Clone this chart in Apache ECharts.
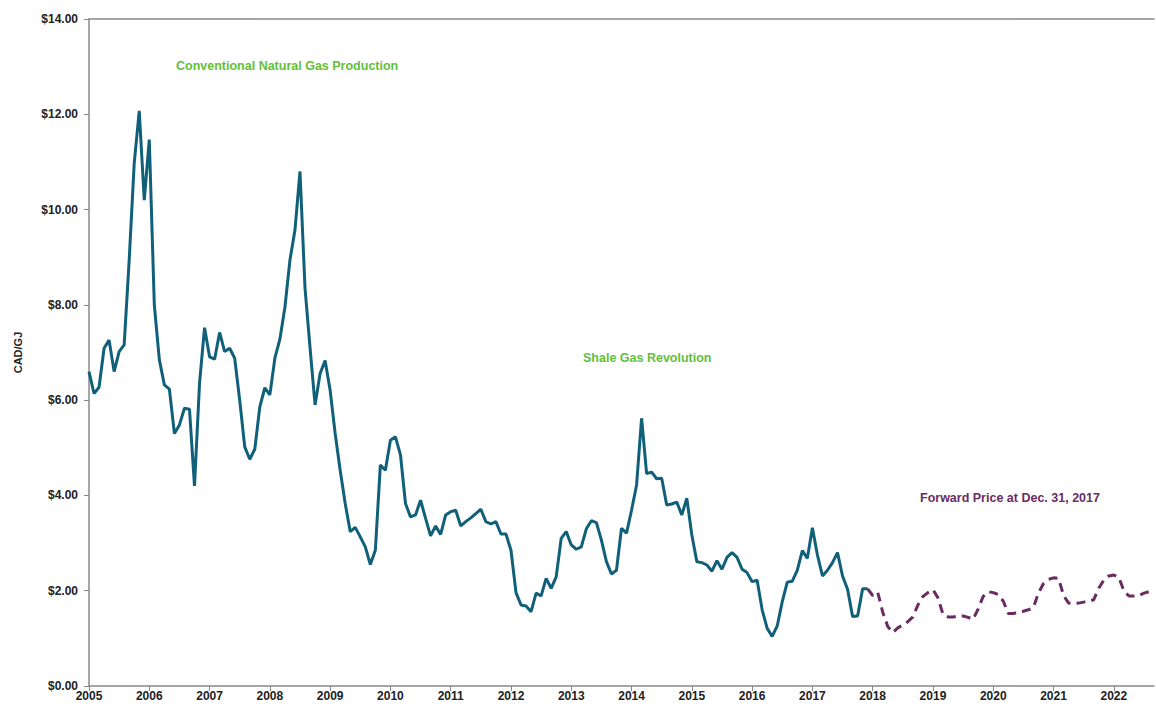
<!DOCTYPE html>
<html>
<head>
<meta charset="utf-8">
<title>Natural gas price CAD/GJ</title>
<script src="https://cdn.jsdelivr.net/npm/echarts@6.0.0/dist/echarts.min.js"></script>
<style>
  html, body { margin: 0; padding: 0; background: #fff; }
  #chart { width: 1156px; height: 708px; }
</style>
</head>
<body>
<div id="chart"></div>
<script>
// monthly history, Jan 2005 - Dec 2017 (CAD/GJ)
var histPrice = [
  6.60, 6.14, 6.27, 7.09, 7.26, 6.60, 7.02, 7.16, 8.94, 10.97, 12.07, 10.20,
  11.47, 8.00, 6.85, 6.32, 6.23, 5.30, 5.48, 5.83, 5.81, 4.20, 6.35, 7.52,
  6.91, 6.86, 7.42, 7.02, 7.09, 6.88, 6.00, 5.02, 4.76, 4.97, 5.86, 6.26,
  6.11, 6.88, 7.28, 7.95, 8.94, 9.57, 10.80, 8.35, 7.10, 5.90, 6.56, 6.83,
  6.21, 5.30, 4.53, 3.83, 3.24, 3.33, 3.13, 2.92, 2.55, 2.85, 4.64, 4.53,
  5.16, 5.23, 4.85, 3.83, 3.55, 3.59, 3.90, 3.52, 3.15, 3.36, 3.18, 3.59,
  3.66, 3.69, 3.36, 3.45, 3.53, 3.62, 3.71, 3.45, 3.40, 3.45, 3.19, 3.19,
  2.85, 1.96, 1.70, 1.68, 1.56, 1.95, 1.89, 2.26, 2.05, 2.29, 3.10, 3.24,
  2.96, 2.87, 2.92, 3.30, 3.47, 3.43, 3.06, 2.61, 2.35, 2.43, 3.31, 3.21,
  3.69, 4.22, 5.62, 4.46, 4.49, 4.35, 4.36, 3.80, 3.82, 3.86, 3.59, 3.94,
  3.17, 2.61, 2.59, 2.54, 2.41, 2.63, 2.45, 2.70, 2.80, 2.70, 2.45, 2.38,
  2.19, 2.22, 1.60, 1.21, 1.04, 1.26, 1.77, 2.18, 2.20, 2.43, 2.84, 2.68,
  3.32, 2.75, 2.31, 2.43, 2.59, 2.80, 2.31, 2.03, 1.46, 1.47, 2.04, 2.04
];

// forward curve at Dec. 31, 2017, Jan 2018 - Sep 2022
var forwardPrice = [
  1.90, 1.97, 1.55, 1.25, 1.12, 1.22, 1.28, 1.35, 1.45, 1.70, 1.88, 1.96,
  2.02, 1.85, 1.50, 1.45, 1.45, 1.47, 1.47, 1.44, 1.40, 1.62, 1.88, 1.98,
  1.96, 1.92, 1.78, 1.52, 1.52, 1.55, 1.57, 1.60, 1.65, 1.95, 2.15, 2.24,
  2.27, 2.26, 1.90, 1.74, 1.73, 1.74, 1.76, 1.78, 1.81, 2.05, 2.22, 2.31,
  2.33, 2.28, 2.00, 1.89, 1.89, 1.90, 1.95, 1.98, 2.00
];

var firstYear = 2005;
var lastYear = 2022;
var lastMonth = 9;

var annotations = [
  { text: 'Conventional Natural Gas Production', color: '#62c03a', left: 176, top: 59 },
  { text: 'Shale Gas Revolution', color: '#62c03a', left: 583, top: 351 },
  { text: 'Forward Price at Dec. 31, 2017', color: '#6b2b62', left: 920, top: 491 }
];

// month categories
var months = [];
for (var y = firstYear; y <= lastYear; y++) {
  for (var m = 1; m <= 12; m++) {
    if (y === lastYear && m > lastMonth) break;
    months.push(y + '-' + (m < 10 ? '0' + m : m));
  }
}

// dashed series joins the last historical point
var forwardSeries = [];
for (var i = 0; i < histPrice.length - 1; i++) forwardSeries.push(null);
forwardSeries.push(histPrice[histPrice.length - 1]);
forwardSeries = forwardSeries.concat(forwardPrice);

var isJan = function (idx) { return idx % 12 === 0; };
var font = '"Liberation Sans", Arial, sans-serif';

var chart = echarts.init(document.getElementById('chart'), null, { renderer: 'svg' });

var option = {
  animation: false,
  backgroundColor: '#fff',
  grid: { left: 89, right: 2, top: 19, bottom: 22, containLabel: false },
  xAxis: [
    {
      type: 'category',
      data: months,
      boundaryGap: false,
      axisLine: { lineStyle: { color: '#888', width: 1.5 } },
      axisTick: { interval: isJan, length: 5, lineStyle: { color: '#888' } },
      axisLabel: {
        interval: isJan,
        formatter: function (v) { return v.split('-')[0]; },
        color: '#222',
        fontWeight: 'bold',
        fontSize: 12,
        fontFamily: font,
        margin: 4
      },
      splitLine: { show: false }
    },
    {
      type: 'category',
      data: months,
      position: 'top',
      boundaryGap: false,
      axisLine: { lineStyle: { color: '#888', width: 1.5 } },
      axisTick: { show: false },
      axisLabel: { show: false },
      splitLine: { show: false }
    }
  ],
  yAxis: {
    type: 'value',
    min: 0,
    max: 14,
    interval: 2,
    name: 'CAD/GJ',
    nameLocation: 'middle',
    nameGap: 66,
    nameRotate: 90,
    nameTextStyle: { color: '#222', fontWeight: 'bold', fontSize: 11, fontFamily: font },
    axisLine: { show: true, lineStyle: { color: '#888', width: 1.5 } },
    axisTick: { show: true, length: 5, lineStyle: { color: '#888' } },
    axisLabel: {
      formatter: function (v) { return '$' + v.toFixed(2); },
      color: '#222',
      fontWeight: 'bold',
      fontSize: 12,
      fontFamily: font,
      margin: 11
    },
    splitLine: { show: false }
  },
  series: [
    {
      name: 'Historical',
      type: 'line',
      data: histPrice,
      showSymbol: false,
      symbol: 'none',
      lineStyle: { color: '#11607a', width: 3 },
      z: 3
    },
    {
      name: 'Forward',
      type: 'line',
      data: forwardSeries,
      showSymbol: false,
      symbol: 'none',
      connectNulls: false,
      lineStyle: { color: '#6b2b62', width: 3, type: [9, 6] },
      z: 2
    }
  ],
  graphic: annotations.map(function (a) {
    return {
      type: 'text',
      left: a.left,
      top: a.top,
      style: {
        text: a.text,
        fill: a.color,
        font: 'bold 12.5px ' + font
      }
    };
  })
};

chart.setOption(option);
</script>
</body>
</html>
